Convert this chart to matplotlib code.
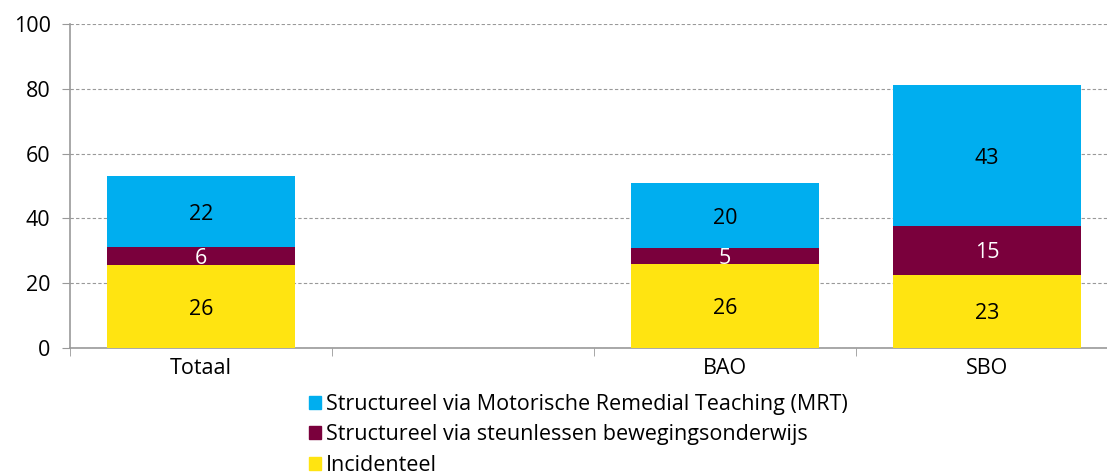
import numpy as np
import matplotlib
matplotlib.use('Agg')
import matplotlib.pyplot as plt
from matplotlib.patches import Patch

matplotlib.rcParams['font.family'] = ['Open Sans', 'DejaVu Sans']
matplotlib.rcParams['font.size'] = 15.5

# categorieen (tweede plek is leeg in de bron)
categories = ['Totaal', '', 'BAO', 'SBO']
incidenteel = [25.6, np.nan, 25.9, 22.6]
steunlessen = [5.6, np.nan, 4.9, 15.1]
mrt = [21.9, np.nan, 20.1, 43.4]

series_names = ['Incidenteel',
                'Structureel via steunlessen bewegingsonderwijs',
                'Structureel via Motorische Remedial Teaching (MRT)']
colors = ['#FFE411', '#7A003C', '#00AEEF']
text_colors = ['black', 'white', 'black']

fig = plt.figure(figsize=(11.07, 4.76), dpi=100)
ax = fig.add_axes([70 / 1107, 1 - 348 / 476, 1 - 70 / 1107, 324 / 476])

x = np.arange(len(categories))
bottom = np.zeros(len(categories))
for vals, name, col, tcol in zip([incidenteel, steunlessen, mrt], series_names, colors, text_colors):
    vals = np.array(vals, dtype=float)
    bars = ax.bar(x, vals, width=0.72, bottom=bottom, color=col, label=name, zorder=3)
    for xi, b, v in zip(x, bottom, vals):
        if not np.isnan(v):
            ax.text(xi, b + v / 2 - 0.8, f'{v:.0f}', ha='center', va='center', color=tcol, fontsize=15.5, zorder=4)
    bottom = bottom + np.nan_to_num(vals)

ax.set_ylim(0, 100)
ax.set_yticks(range(0, 101, 20))
ax.set_xlim(-0.5, 3.5 - 11 / 262)
ax.set_xticks(x)
ax.set_xticklabels(categories)
ax.set_xticks(np.arange(-0.5, 3.5, 1), minor=True)
ax.tick_params(axis='x', which='major', length=0, pad=7)
ax.tick_params(axis='x', which='minor', length=6, color='#999999')
ax.tick_params(axis='y', length=6, color='#999999', pad=8)
ax.grid(axis='y', ls=(0, (3, 2)), color='#999999', lw=0.8, zorder=0)
for s in ['top', 'right']:
    ax.spines[s].set_visible(False)
for s in ['left', 'bottom']:
    ax.spines[s].set_color('#999999')
    ax.spines[s].set_linewidth(1.2)

handles = [Patch(color=c) for c in colors[::-1]]
fig.legend(handles, series_names[::-1], loc='upper left', bbox_to_anchor=(298 / 1107, 1 - 383 / 476),
           frameon=False, handlelength=0.55, handleheight=0.55, handletextpad=0.25,
           labelspacing=0.45, borderpad=0, fontsize=15.5)

fig.savefig('out.png', dpi=100)
